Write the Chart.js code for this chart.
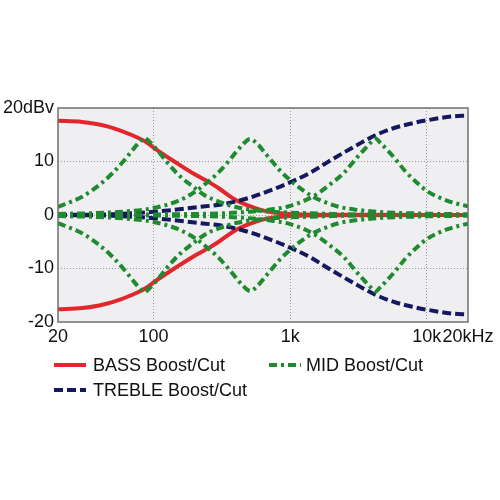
<!DOCTYPE html>
<html>
<head>
<meta charset="utf-8">
<script src="https://cdn.jsdelivr.net/npm/chart.js@4.4.1/dist/chart.umd.min.js"></script>
<style>
  html, body { margin: 0; padding: 0; background: #fff; }
  #wrap { position: relative; width: 500px; height: 500px; }
  #wrap canvas { position: absolute; left: 0; top: 0; }
  .leg { position: absolute; font-family: "Liberation Sans", Arial, sans-serif; font-size: 18px; color: #111; line-height: 20px; white-space: nowrap; }
  .leg svg { position: absolute; left: 0; top: 8px; }
  .leg span { position: absolute; left: 39px; top: 0; }
</style>
</head>
<body>
<div id="wrap">
  <canvas id="eq" width="500" height="500"></canvas>
  <div class="leg" style="left:54px; top:355px;">
    <svg width="32" height="4"><line x1="0" y1="2" x2="32" y2="2" stroke="#e3262b" stroke-width="4"/></svg>
    <span>BASS Boost/Cut</span>
  </div>
  <div class="leg" style="left:269px; top:355px;">
    <svg width="32" height="4"><line x1="0" y1="2" x2="32" y2="2" stroke="#1f8a2f" stroke-width="4" stroke-dasharray="8,4,3,4"/></svg>
    <span style="left:37px">MID Boost/Cut</span>
  </div>
  <div class="leg" style="left:54px; top:380px;">
    <svg width="32" height="4"><line x1="0" y1="2" x2="32" y2="2" stroke="#15185e" stroke-width="4" stroke-dasharray="9,4"/></svg>
    <span>TREBLE Boost/Cut</span>
  </div>
</div>
<script>
// frequency ticks (Hz) and level ticks (dB)
const freqTicks = [20, 100, 1000, 10000, 20000];
const freqTickLabels = ["20", "100", "1k", "10k", "20kHz"];
const levelTicks = [-20, -10, 0, 10, 20];
const levelTickLabels = ["-20", "-10", "0", "10", "20dBv"];

// BASS shelving
const bassFreq = [20, 30, 40, 50, 70, 90, 100, 150, 200, 260, 300, 400, 500, 600, 700, 1000, 2000, 20000];
const bassBoost = [17.6, 17.4, 16.9, 16.3, 14.9, 13.5, 12.6, 9.6, 7.6, 6.0, 5.0, 2.8, 1.7, 1.0, 0.6, 0.2, 0.05, 0];
const bassCut = [-17.6, -17.4, -16.9, -16.3, -14.9, -13.5, -12.6, -9.6, -7.6, -6.0, -5.0, -2.8, -1.7, -1.0, -0.6, -0.2, -0.05, 0];

// TREBLE shelving
const trebleFreq = [20, 50, 100, 200, 350, 500, 700, 1000, 1400, 2000, 3000, 4200, 6000, 8000, 10000, 15000, 20000];
const trebleBoost = [0, 0.15, 0.6, 1.4, 2.2, 3.2, 4.5, 6.1, 7.9, 10.3, 12.9, 14.9, 16.4, 17.2, 17.7, 18.4, 18.6];
const trebleCut = [0, -0.15, -0.6, -1.4, -2.2, -3.2, -4.5, -6.1, -7.9, -10.3, -12.9, -14.9, -16.4, -17.2, -17.7, -18.4, -18.6];

// MID peaking, low setting (~86 Hz)
const midLowFreq = [20, 25, 30, 40, 50, 60, 70, 80, 86, 95, 110, 130, 160, 190, 240, 300, 400, 600, 1000, 2000, 5000, 20000];
const midLowBoost = [1.5, 2.5, 3.4, 5.6, 7.8, 10.0, 12.1, 13.8, 14.4, 13.5, 11.7, 9.4, 7.0, 5.5, 3.6, 2.5, 1.5, 0.8, 0.45, 0.2, 0.05, 0];
const midLowCut = [-1.5, -2.5, -3.4, -5.6, -7.8, -10.0, -12.1, -13.8, -14.4, -13.5, -11.7, -9.4, -7.0, -5.5, -3.6, -2.5, -1.5, -0.8, -0.45, -0.2, -0.05, 0];

// MID peaking, middle setting (~510 Hz)
const midMidFreq = [20, 50, 100, 150, 200, 250, 300, 350, 400, 450, 510, 580, 650, 750, 850, 1000, 1200, 1400, 1800, 2300, 3000, 5000, 10000, 20000];
const midMidBoost = [0.2, 0.5, 1.3, 2.6, 4.3, 6.2, 8.0, 9.9, 11.7, 13.2, 14.2, 13.2, 11.7, 9.8, 8.2, 6.5, 4.9, 3.7, 2.4, 1.5, 1.0, 0.5, 0.25, 0.12];
const midMidCut = [-0.2, -0.5, -1.3, -2.6, -4.3, -6.2, -8.0, -9.9, -11.7, -13.2, -14.2, -13.2, -11.7, -9.8, -8.2, -6.5, -4.9, -3.7, -2.4, -1.5, -1.0, -0.5, -0.25, -0.12];

// MID peaking, high setting (~4.2 kHz)
const midHighFreq = [20, 100, 300, 500, 700, 1000, 1500, 2000, 2500, 3000, 3500, 3900, 4200, 4600, 5200, 6000, 7000, 8500, 10000, 14000, 20000];
const midHighBoost = [0, 0.1, 0.3, 0.6, 1.0, 1.7, 3.6, 5.9, 8.0, 10.4, 12.3, 13.6, 14.3, 13.4, 12.0, 10.2, 8.1, 6.0, 4.5, 2.7, 1.6];
const midHighCut = [0, -0.1, -0.3, -0.6, -1.0, -1.7, -3.6, -5.9, -8.0, -10.4, -12.3, -13.6, -14.3, -13.4, -12.0, -10.2, -8.1, -6.0, -4.5, -2.7, -1.6];

const RED = "#e3262b";
const GREEN = "#1f8a2f";
const NAVY = "#15185e";

const pts = (xs, ys) => xs.map((x, i) => ({ x: x, y: ys[i] }));

const line = (label, xs, ys, color, dash, order) => ({
  label: label,
  data: pts(xs, ys),
  borderColor: color,
  backgroundColor: color,
  borderWidth: 4,
  borderDash: dash,
  pointRadius: 0,
  cubicInterpolationMode: "monotone",
  fill: false,
  order: order,
});

const plotFrame = {
  id: "plotFrame",
  beforeDraw(chart) {
    const { ctx, chartArea: a } = chart;
    ctx.save();
    ctx.fillStyle = "#efeff1";
    ctx.fillRect(a.left, a.top, a.right - a.left, a.bottom - a.top);
    ctx.restore();
  },
  afterDraw(chart) {
    const { ctx, chartArea: a } = chart;
    ctx.save();
    ctx.strokeStyle = "#6f6f6f";
    ctx.lineWidth = 1.5;
    ctx.strokeRect(a.left, a.top, a.right - a.left, a.bottom - a.top);
    ctx.restore();
  },
};

new Chart(document.getElementById("eq"), {
  type: "line",
  data: {
    datasets: [
      line("BASS Boost", bassFreq, bassBoost, RED, [], 3),
      line("BASS Cut", bassFreq, bassCut, RED, [], 3),
      line("TREBLE Boost", trebleFreq, trebleBoost, NAVY, [9, 4], 2),
      line("TREBLE Cut", trebleFreq, trebleCut, NAVY, [9, 4], 2),
      line("MID Boost low", midLowFreq, midLowBoost, GREEN, [8, 4, 3, 4], 1),
      line("MID Cut low", midLowFreq, midLowCut, GREEN, [8, 4, 3, 4], 1),
      line("MID Boost mid", midMidFreq, midMidBoost, GREEN, [8, 4, 3, 4], 1),
      line("MID Cut mid", midMidFreq, midMidCut, GREEN, [8, 4, 3, 4], 1),
      line("MID Boost high", midHighFreq, midHighBoost, GREEN, [8, 4, 3, 4], 1),
      line("MID Cut high", midHighFreq, midHighCut, GREEN, [8, 4, 3, 4], 1),
    ],
  },
  options: {
    responsive: false,
    animation: false,
    layout: {
      padding: { top: 108, right: 32, bottom: 148, left: 0 },
    },
    scales: {
      x: {
        type: "logarithmic",
        min: 20,
        max: 20000,
        afterBuildTicks: (scale) => {
          scale.ticks = freqTicks.map((v) => ({ value: v }));
        },
        afterFit: (scale) => {
          scale.height = 30;
        },
        ticks: {
          autoSkip: false,
          maxRotation: 0,
          padding: 4,
          color: "#111",
          font: { family: "'Liberation Sans', Arial, sans-serif", size: 18 },
          callback: (value) => {
            const i = freqTicks.indexOf(value);
            return i >= 0 ? freqTickLabels[i] : "";
          },
        },
        grid: {
          color: (c) => (c.tick && (c.tick.value === 20 || c.tick.value === 20000) ? "rgba(0,0,0,0)" : "#9a9a9a"),
          lineWidth: 1,
          drawTicks: false,
          tickBorderDash: [1, 2],
        },
        border: { display: false, dash: [1, 2] },
      },
      y: {
        min: -20,
        max: 20,
        afterBuildTicks: (scale) => {
          scale.ticks = levelTicks.map((v) => ({ value: v }));
        },
        afterFit: (scale) => {
          scale.width = 58;
        },
        ticks: {
          padding: 4,
          color: "#111",
          font: { family: "'Liberation Sans', Arial, sans-serif", size: 18 },
          callback: (value) => {
            const i = levelTicks.indexOf(value);
            return i >= 0 ? levelTickLabels[i] : "";
          },
        },
        grid: {
          color: (c) => (c.tick && Math.abs(c.tick.value) === 20 ? "rgba(0,0,0,0)" : "#9a9a9a"),
          lineWidth: 1,
          drawTicks: false,
        },
        border: { display: false, dash: [1, 2] },
      },
    },
    plugins: {
      legend: { display: false },
      tooltip: { enabled: false },
    },
  },
  plugins: [plotFrame],
});
</script>
</body>
</html>
